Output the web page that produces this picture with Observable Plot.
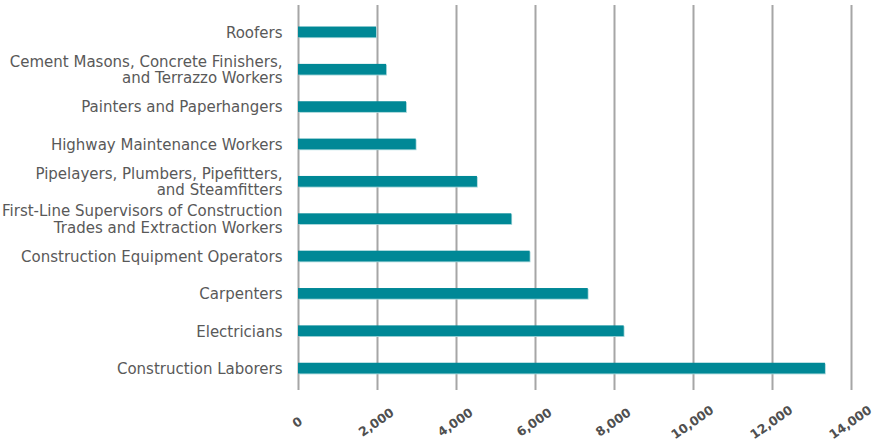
<!DOCTYPE html>
<html>
<head>
<meta charset="utf-8">
<script src="https://cdn.jsdelivr.net/npm/d3@7"></script>
<script src="https://cdn.jsdelivr.net/npm/@observablehq/plot@0.6"></script>
<style>
  html, body { margin: 0; padding: 0; background: #ffffff; }
  #chart svg { display: block; }
</style>
</head>
<body>
<div id="chart"></div>
<script>
const categories = [
  "Roofers",
  "Cement Masons, Concrete Finishers, and Terrazzo Workers",
  "Painters and Paperhangers",
  "Highway Maintenance Workers",
  "Pipelayers, Plumbers, Pipefitters, and Steamfitters",
  "First-Line Supervisors of Construction Trades and Extraction Workers",
  "Construction Equipment Operators",
  "Carpenters",
  "Electricians",
  "Construction Laborers"
];
const labels = [
  "Roofers",
  "Cement Masons, Concrete Finishers,\nand Terrazzo Workers",
  "Painters and Paperhangers",
  "Highway Maintenance Workers",
  "Pipelayers, Plumbers, Pipefitters,\nand Steamfitters",
  "First-Line Supervisors of Construction\nTrades and Extraction Workers",
  "Construction Equipment Operators",
  "Carpenters",
  "Electricians",
  "Construction Laborers"
];
const values = [1975, 2230, 2735, 2980, 4530, 5400, 5865, 7335, 8245, 13340];
const xTicks = [0, 2000, 4000, 6000, 8000, 10000, 12000, 14000];

const data = categories.map((c, i) => ({category: c, label: labels[i], value: values[i]}));
const fmt = d3.format(",");

const chart = Plot.plot({
  width: 873,
  height: 442,
  marginLeft: 298,
  marginRight: 22,
  marginTop: 5,
  marginBottom: 52,
  style: {background: "#ffffff", fontFamily: "DejaVu Sans, sans-serif"},
  x: {domain: [0, 14000], axis: null},
  y: {domain: categories, axis: null, paddingInner: 0.714, paddingOuter: 0.51, align: 0.565, round: false},
  marks: [
    Plot.ruleX(xTicks, {x: d => d, stroke: "#a6a6a6", strokeWidth: 2}),
    Plot.barX(data, {y: "category", x: "value", fill: "#9fd3d7", dx: 0.8, dy: 0.9}),
    Plot.barX(data, {y: "category", x: "value", fill: "#008896"}),
    Plot.text(data, {
      y: "category", x: 0, text: "label", dx: -16,
      textAnchor: "end", lineAnchor: "middle", lineHeight: 1.1,
      fontSize: 15, fill: "#595959"
    }),
    Plot.text(xTicks, {
      x: d => d, frameAnchor: "bottom", dy: 32, dx: -1, rotate: -35,
      text: d => fmt(d), textAnchor: "middle", lineAnchor: "middle",
      fontSize: 12.5, fontWeight: "bold", fill: "#505050"
    })
  ]
});
document.getElementById("chart").appendChild(chart);
</script>
</body>
</html>
